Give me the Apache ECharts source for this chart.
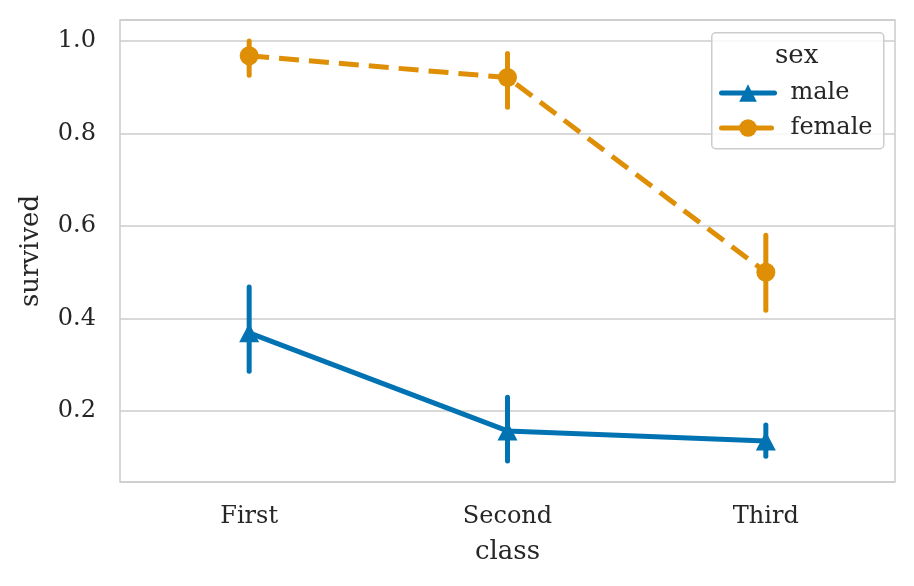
<!DOCTYPE html>
<html><head><meta charset="utf-8">
<script src="https://cdn.jsdelivr.net/npm/echarts@6/dist/echarts.min.js"></script>
<style>html,body{margin:0;padding:0;background:#fff}#c{width:914px;height:586px}</style>
</head><body><div id="c"></div>
<script>
const categories = ['First', 'Second', 'Third'];
const maleMean = [0.369, 0.157, 0.135];
const maleLow = [0.286, 0.092, 0.102];
const maleHigh = [0.468, 0.230, 0.170];
const femaleMean = [0.968, 0.921, 0.500];
const femaleLow = [0.926, 0.857, 0.418];
const femaleHigh = [1.000, 0.973, 0.580];

const BLUE = '#0173b2', ORANGE = '#de8f05', TXT = '#262626';
const FONT = 'DejaVu Serif';
const LW = 5;

function errSeries(name, low, high, color) {
  return {
    type: 'custom', name: name + '_ci', z: 3, silent: true,
    data: categories.map((c, i) => [i, low[i], high[i]]),
    renderItem: function (params, api) {
      const a = api.coord([api.value(0), api.value(1)]);
      const b = api.coord([api.value(0), api.value(2)]);
      return { type: 'line', shape: { x1: a[0], y1: a[1], x2: b[0], y2: b[1] },
        style: { stroke: color, lineWidth: LW, lineCap: 'round' } };
    }
  };
}

const chart = echarts.init(document.getElementById('c'), null, { renderer: 'canvas' });
chart.setOption({
  animation: false,
  textStyle: { fontFamily: FONT, color: TXT },
  grid: { left: 120, right: 19, top: 20, bottom: 104, show: true, borderColor: '#cccccc', borderWidth: 1.5, containLabel: false },
  xAxis: {
    type: 'category', data: categories, boundaryGap: true,
    name: 'class', nameLocation: 'middle', nameGap: 57,
    nameTextStyle: { fontFamily: FONT, fontSize: 26, color: TXT },
    axisLine: { show: false }, axisTick: { show: false }, splitLine: { show: false },
    axisLabel: { fontFamily: FONT, fontSize: 24, color: TXT, margin: 23 }
  },
  yAxis: {
    type: 'value', min: 0.0465, max: 1.0454, splitNumber: 5,
    name: 'survived', nameLocation: 'middle', nameGap: 76,
    nameTextStyle: { fontFamily: FONT, fontSize: 26, color: TXT },
    axisLine: { show: false }, axisTick: { show: false },
    splitLine: { lineStyle: { color: '#cccccc', width: 1.5 } },
    axisLabel: { fontFamily: FONT, fontSize: 24, color: TXT, margin: 24,
      formatter: function (v) { return (Math.round(v * 10) / 10).toFixed(1); },
      showMinLabel: false, showMaxLabel: false }
  },
  legend: {
    orient: 'vertical', left: 714, top: 76, itemGap: 11, itemWidth: 53, itemHeight: 22, z: 10,
    data: ['male', 'female'],
    lineStyle: { width: LW, cap: 'round' },
    textStyle: { fontFamily: FONT, fontSize: 24, color: TXT, padding: [0, 0, 0, 11] },
    selectedMode: false
  },
  graphic: [
    { type: 'rect', left: 711, top: 32, z: 1, shape: { width: 172, height: 116, r: 4 },
      style: { fill: 'rgba(255,255,255,0.85)', stroke: '#cccccc', lineWidth: 1.5 } },
    { type: 'text', left: 775, top: 43, z: 2, style: { text: 'sex', fontFamily: FONT, fontSize: 26, fill: TXT } }
  ],
  series: [
    errSeries('male', maleLow, maleHigh, BLUE),
    errSeries('female', femaleLow, femaleHigh, ORANGE),
    { name: 'male', type: 'line', data: maleMean, z: 4, symbol: 'triangle', symbolSize: [20, 19],
      itemStyle: { color: BLUE }, lineStyle: { color: BLUE, width: LW, type: 'solid' } },
    { name: 'female', type: 'line', data: femaleMean, z: 4, symbol: 'circle', symbolSize: 19,
      itemStyle: { color: ORANGE }, lineStyle: { color: ORANGE, width: LW, type: [20, 10] } }
  ]
});
</script></body></html>
